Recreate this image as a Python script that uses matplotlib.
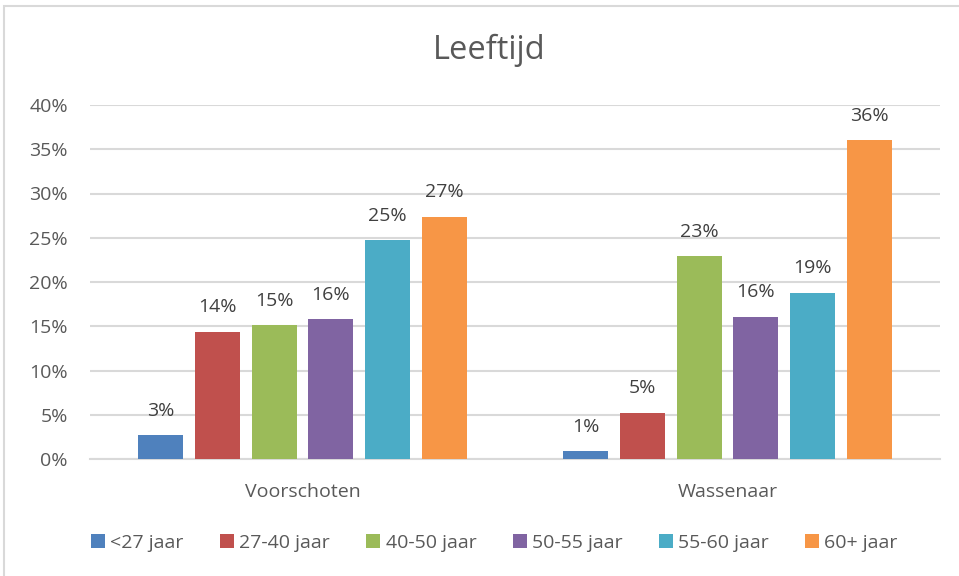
import matplotlib.pyplot as plt
import numpy as np
from matplotlib.patches import Rectangle

# data
plaatsen = ['Voorschoten', 'Wassenaar']
groepen = ['<27 jaar', '27-40 jaar', '40-50 jaar', '50-55 jaar', '55-60 jaar', '60+ jaar']
waarden = {
    '<27 jaar': [2.7, 0.9],
    '27-40 jaar': [14.4, 5.2],
    '40-50 jaar': [15.1, 22.9],
    '50-55 jaar': [15.8, 16.1],
    '55-60 jaar': [24.7, 18.8],
    '60+ jaar': [27.4, 36.0],
}
kleuren = ['#4F81BD', '#C0504D', '#9BBB59', '#8064A2', '#4BACC6', '#F79646']
yticks = [0, 5, 10, 15, 20, 25, 30, 35, 40]

plt.rcParams['font.family'] = ['Open Sans', 'DejaVu Sans']

fig = plt.figure(figsize=(9.59, 5.76), dpi=100)
ax = fig.add_axes([90/959, 1-459/576, 850/959, 354/576])

x = np.arange(len(plaatsen))
stap = 0.1333
breedte = 0.106
for i, g in enumerate(groepen):
    pos = x + (i - 2.5) * stap
    bars = ax.bar(pos, waarden[g], breedte, color=kleuren[i], label=g, zorder=3)
    for b, v in zip(bars, waarden[g]):
        ax.text(b.get_x() + b.get_width()/2, v + 1.75, '{:.0f}%'.format(v),
                ha='center', va='bottom', fontsize=14, color='#404040')

ax.set_xlim(-0.5, 1.5)
ax.set_ylim(0, 40)
ax.set_yticks(yticks)
ax.set_yticklabels(['{}%'.format(t) for t in yticks], fontsize=14, color='#595959')
ax.set_xticks(x)
ax.set_xticklabels(plaatsen, fontsize=14, color='#595959')
ax.tick_params(axis='y', length=0, pad=16)
ax.tick_params(axis='x', length=0, pad=17)
ax.grid(axis='y', color='#D9D9D9', linewidth=1.5, zorder=0)
for s in ['top', 'right', 'left']:
    ax.spines[s].set_visible(False)
ax.spines['bottom'].set_color('#D9D9D9')
ax.spines['bottom'].set_linewidth(1.5)

fig.text(489/959, 1-50/576, 'Leeftijd', ha='center', va='center', fontsize=23.5, color='#595959')

fig.legend(loc='center', bbox_to_anchor=(494.5/959, 1-543/576), ncol=6, frameon=False,
           fontsize=14, handlelength=0.72, handleheight=0.72, handletextpad=0.26,
           columnspacing=1.88, labelcolor='#595959')

# rand om de grafiek
fig.patches.append(Rectangle((4/959, -0.1), 1.2, 1.1 - 5.5/576, transform=fig.transFigure,
                             fill=False, edgecolor='#D9D9D9', linewidth=1.5))

plt.savefig('out.png', dpi=100)
